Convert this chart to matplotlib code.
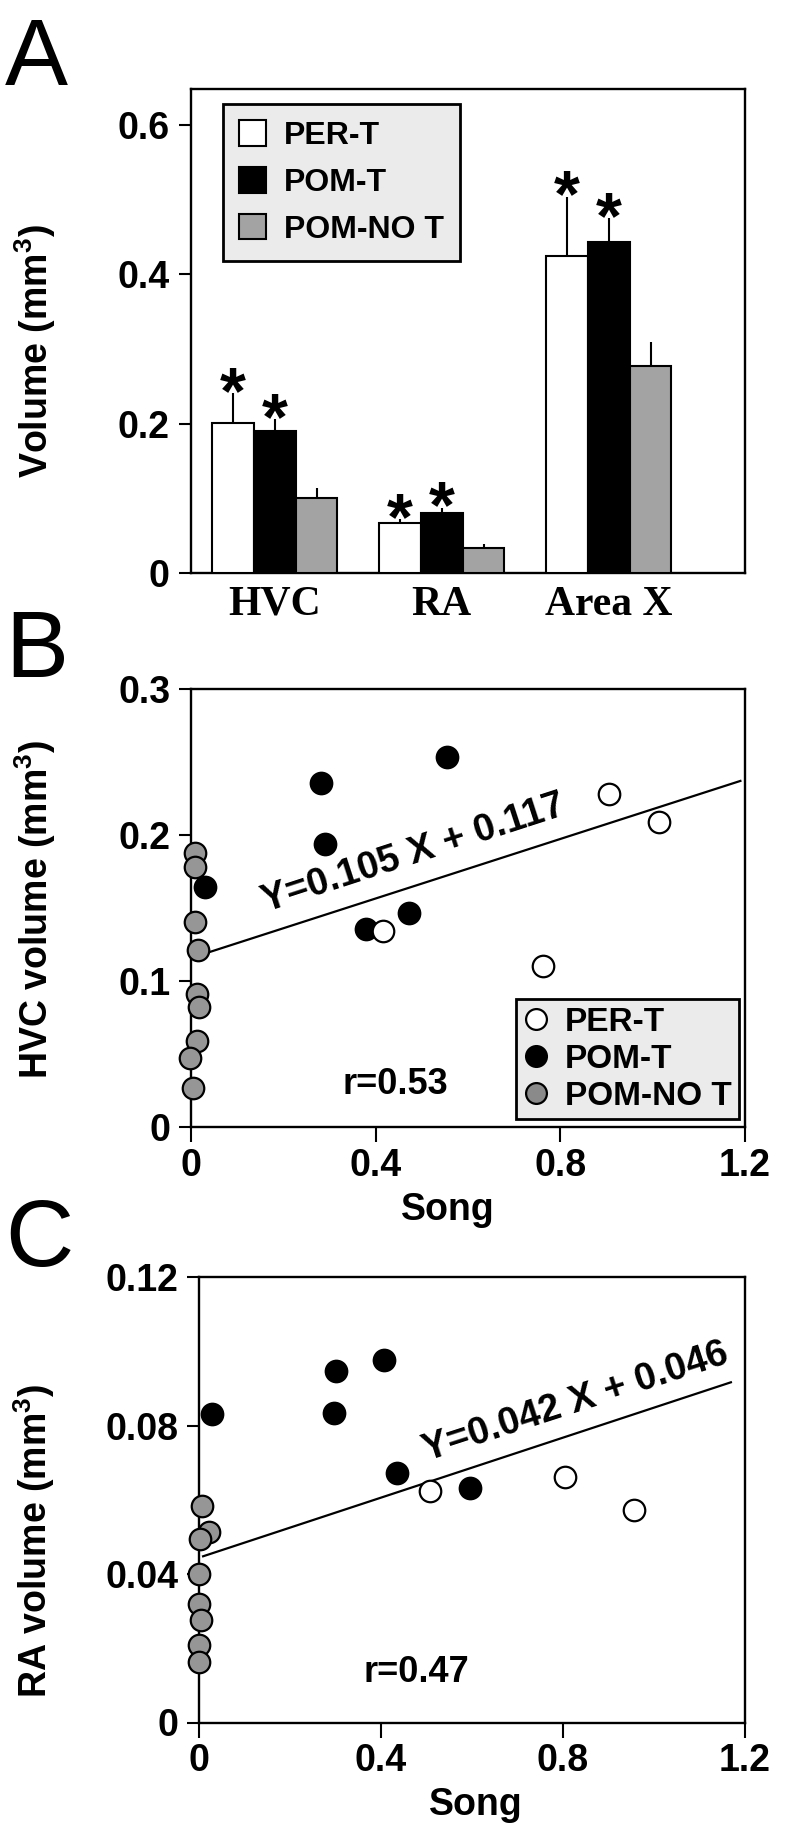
import numpy as np
import matplotlib
matplotlib.use("Agg")
import matplotlib.pyplot as plt
from matplotlib.patches import Patch
from matplotlib.lines import Line2D

plt.rcParams['font.family'] = ['Liberation Sans', 'DejaVu Sans']
plt.rcParams['font.weight'] = 'bold'
plt.rcParams['mathtext.fontset'] = 'custom'
plt.rcParams['mathtext.rm'] = 'Liberation Sans:bold'
plt.rcParams['mathtext.default'] = 'regular'

# -------------------------------------------------
# Datos panel A (volumen medio + error)
regiones = ['HVC', 'RA', 'Area X']
grupos = ['PER-T', 'POM-T', 'POM-NO T']
media_per = [0.201, 0.067, 0.424]
media_pom = [0.190, 0.081, 0.443]
media_not = [0.101, 0.034, 0.277]
err_per = [0.040, 0.005, 0.080]
err_pom = [0.016, 0.007, 0.032]
err_not = [0.013, 0.005, 0.033]
signif_per = [True, True, True]
signif_pom = [True, True, True]
signif_not = [False, False, False]

# Datos panel B (HVC vs canto)
b_per_x = [0.906, 1.013, 0.416, 0.762]
b_per_y = [0.228, 0.209, 0.134, 0.110]
b_pom_x = [0.281, 0.555, 0.289, 0.030, 0.473, 0.379]
b_pom_y = [0.2356, 0.2534, 0.1939, 0.1640, 0.1465, 0.1354]
b_not_x = [0.008, 0.008, 0.008, 0.015, 0.013, 0.016, 0.013, -0.002, 0.003]
b_not_y = [0.1876, 0.178, 0.140, 0.121, 0.091, 0.082, 0.0585, 0.047, 0.0265]
b_fit_x = [0.02, 1.19]
b_fit_y = [0.1177, 0.237]
b_eq = 'Y=0.105 X + 0.117'
b_r = 'r=0.53'

# Datos panel C (RA vs canto)
c_per_x = [0.508, 0.804, 0.957]
c_per_y = [0.0623, 0.0662, 0.0573]
c_pom_x = [0.028, 0.300, 0.407, 0.297, 0.436, 0.596]
c_pom_y = [0.0832, 0.0948, 0.0976, 0.0835, 0.0673, 0.0633]
c_not_x = [0.007, 0.021, 0.002, 0.001, 0.001, 0.005, 0.001, 0.001]
c_not_y = [0.0584, 0.0514, 0.0494, 0.040, 0.0319, 0.0275, 0.0208, 0.0163]
c_fit_x = [0.009, 1.169]
c_fit_y = [0.0448, 0.0917]
c_eq = 'Y=0.042 X + 0.046'
c_r = 'r=0.47'

# -------------------------------------------------
W, H = 790, 1836
fig = plt.figure(figsize=(W / 100, H / 100), dpi=100)


def px(x, y):
    return x / W, 1 - y / H


def caja(left, top, right, bottom):
    return [left / W, 1 - bottom / H, (right - left) / W, (bottom - top) / H]


GRIS_BAR = '#a3a3a3'
GRIS_PT = '#969696'
LEG_BG = '#ebebeb'
LW = 1.7
TAM_TICK = 27
TAM_LAB = 27


def estilo(ax):
    for s in ax.spines.values():
        s.set_linewidth(LW)
    ax.tick_params(axis='y', direction='out', length=9, width=1.5, pad=6, labelsize=TAM_TICK)
    ax.tick_params(axis='x', direction='out', length=11, width=1.5, pad=4, labelsize=TAM_TICK)


# ---------------- Panel A ----------------
axA = fig.add_axes(caja(190.7, 89, 745, 573.3))
estilo(axA)
x = np.arange(len(regiones))
w = 0.25
series = [(media_per, err_per, 'white', signif_per),
          (media_pom, err_pom, 'black', signif_pom),
          (media_not, err_not, GRIS_BAR, signif_not)]
for i, (m, e, col, sig) in enumerate(series):
    pos = x + (i - 1) * w
    axA.bar(pos, m, w, color=col, edgecolor='black', linewidth=1.5, zorder=3,
            yerr=[np.zeros(len(m)), e],
            error_kw=dict(ecolor='black', elinewidth=1.5, capsize=0, zorder=2))
    for p, mm, ee, s in zip(pos, m, e, sig):
        if s:
            axA.annotate('*', (p, mm + ee), xytext=(0, -14), textcoords='offset points',
                         ha='center', va='baseline', fontsize=48, fontweight='bold')
axA.set_xlim(-0.504, 2.816)
axA.set_ylim(0, 0.648)
axA.set_yticks([0, 0.2, 0.4, 0.6])
axA.set_yticklabels(['0', '0.2', '0.4', '0.6'])
axA.set_xticks(x)
axA.set_xticklabels(regiones, family='Liberation Serif', fontweight='bold', fontsize=30)
axA.tick_params(axis='x', length=0, pad=9)
hA = [Patch(facecolor=c, edgecolor='black', linewidth=1.5) for c in ['white', 'black', GRIS_BAR]]
legA = axA.legend(hA, grupos, loc='upper left', bbox_to_anchor=(0.0588, 0.968),
                  borderaxespad=0, fontsize=23, frameon=True, fancybox=False,
                  handlelength=0.85, handleheight=0.85, handletextpad=0.55,
                  labelspacing=0.5, borderpad=0.5)
legA.get_frame().set_facecolor(LEG_BG)
legA.get_frame().set_edgecolor('black')
legA.get_frame().set_linewidth(2)
legA.get_frame().set_alpha(1)
fig.text(*px(48, 351), r'Volume (mm$^3$)', rotation=90, rotation_mode='anchor',
         ha='center', va='baseline', fontsize=TAM_LAB, fontweight='bold')


# ---------------- Paneles B y C ----------------
def dispersion(ax, px_, py_, mx, my, gx, gy, fx, fy):
    ax.plot(fx, fy, color='black', linewidth=1.6, zorder=2)
    kw = dict(s=240, edgecolors='black', linewidths=1.6, zorder=4, clip_on=False)
    ax.scatter(gx, gy, c=GRIS_PT, **kw)
    ax.scatter(mx, my, c='black', **kw)
    ax.scatter(px_, py_, c='white', **kw)


axB = fig.add_axes(caja(191.2, 689, 745, 1126.7))
estilo(axB)
dispersion(axB, b_per_x, b_per_y, b_pom_x, b_pom_y, b_not_x, b_not_y, b_fit_x, b_fit_y)
axB.set_xlim(0, 1.2)
axB.set_ylim(0, 0.3)
axB.set_xticks([0, 0.4, 0.8, 1.2])
axB.set_xticklabels(['0', '0.4', '0.8', '1.2'])
axB.set_yticks([0, 0.1, 0.2, 0.3])
axB.set_yticklabels(['0', '0.1', '0.2', '0.3'])
axB.text(0.481, 0.187, b_eq, rotation=18, rotation_mode='anchor', ha='center', va='center',
         fontsize=27.5, fontweight='bold')
axB.text(0.442, 0.0286, b_r, ha='center', va='center', fontsize=26, fontweight='bold')
mk = dict(marker='o', linestyle='none', markersize=15, markeredgecolor='black', markeredgewidth=1.6)
hB = [Line2D([], [], markerfacecolor='white', **mk),
      Line2D([], [], markerfacecolor='black', **mk),
      Line2D([], [], markerfacecolor='#8a8a8a', **mk)]
legB = axB.legend(hB, grupos, loc='lower right', bbox_to_anchor=(0.989, 0.0176),
                  borderaxespad=0, fontsize=24, frameon=True, fancybox=False,
                  handlelength=0.8, handletextpad=0.45, labelspacing=0.18, borderpad=0.22)
legB.get_frame().set_facecolor(LEG_BG)
legB.get_frame().set_edgecolor('black')
legB.get_frame().set_linewidth(2)
legB.get_frame().set_alpha(1)
fig.text(*px(48, 909), r'HVC volume (mm$^3$)', rotation=90, rotation_mode='anchor',
         ha='center', va='baseline', fontsize=TAM_LAB, fontweight='bold')
fig.text(*px(448, 1220), 'Song', ha='center', va='baseline', fontsize=TAM_LAB, fontweight='bold')

axC = fig.add_axes(caja(199, 1277.3, 745, 1722.5))
estilo(axC)
dispersion(axC, c_per_x, c_per_y, c_pom_x, c_pom_y, c_not_x, c_not_y, c_fit_x, c_fit_y)
axC.set_xlim(0, 1.2)
axC.set_ylim(0, 0.12)
axC.set_xticks([0, 0.4, 0.8, 1.2])
axC.set_xticklabels(['0', '0.4', '0.8', '1.2'])
axC.set_yticks([0, 0.04, 0.08, 0.12])
axC.set_yticklabels(['0', '0.04', '0.08', '0.12'])
axC.text(0.828, 0.0862, c_eq, rotation=18, rotation_mode='anchor', ha='center', va='center',
         fontsize=27.5, fontweight='bold')
axC.text(0.477, 0.0135, c_r, ha='center', va='center', fontsize=26, fontweight='bold')
fig.text(*px(47, 1541), r'RA volume (mm$^3$)', rotation=90, rotation_mode='anchor',
         ha='center', va='baseline', fontsize=TAM_LAB, fontweight='bold')
fig.text(*px(476, 1815), 'Song', ha='center', va='baseline', fontsize=TAM_LAB, fontweight='bold')

# Letras de panel
for letra, yb in [('A', 85), ('B', 677), ('C', 1266)]:
    fig.text(*px(5, yb), letra, ha='left', va='baseline', fontsize=68, fontweight='normal')

fig.savefig('out.png', dpi=100)
